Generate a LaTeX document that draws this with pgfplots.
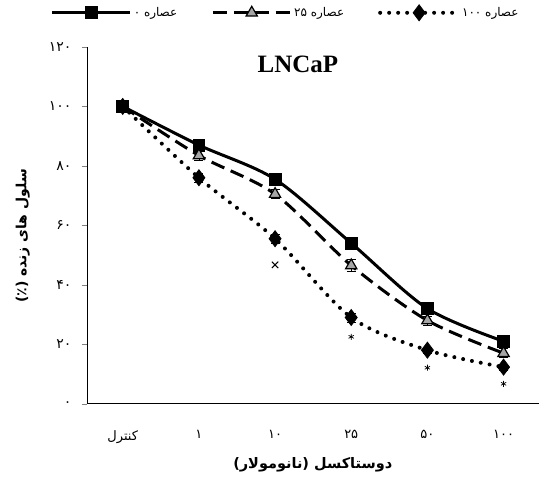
\documentclass[border=0pt]{standalone}
\usepackage{pgfplots}
\pgfplotsset{compat=1.18}
\usepackage{fontspec}
\setmainfont{Liberation Serif}
\newfontfamily\fa[Script=Arabic]{DejaVu Sans}
\TeXXeTstate=1

\begin{document}
\begin{tikzpicture}
\begin{axis}[
    name=ax,
    scale only axis,
    width=452pt, height=357pt,
    xmin=-0.47, xmax=5.46,
    ymin=0, ymax=120,
    axis lines=left,
    axis line style={-, line width=0.8pt},
    xtick={0,1,2,3,4,5},
    xticklabels={{\beginR کنترل\endR},۱,۱۰,۲۵,۵۰,۱۰۰},
    major x tick style={draw=none},
    ytick={0,20,40,60,80,100,120},
    yticklabels={۰,۲۰,۴۰,۶۰,۸۰,۱۰۰,۱۲۰},
    tick align=outside,
    major tick length=5pt,
    yticklabel style={font=\fa\fontsize{14}{16}\selectfont, xshift=-7pt},
    xticklabel style={font=\fa\fontsize{13}{15}\selectfont, yshift=-18pt},
    xlabel={\beginR دوستاکسل (نانومولار)\endR},
    xlabel style={font=\fa\bfseries\fontsize{14.5}{17}\selectfont,
        at={(axis description cs:0.5,0)}, anchor=center, yshift=-61pt},
    ylabel={\beginR سلول های زنده (٪)\endR},
    ylabel style={font=\fa\bfseries\fontsize{14}{16}\selectfont,
        at={(axis description cs:-0.142,0.47)}, anchor=center},
    legend columns=3,
    legend cell align=left,
    legend style={draw=none, fill=none, font=\fa\fontsize{12}{14}\selectfont,
        at={(0.44,1)}, anchor=south, yshift=24pt,
        /tikz/every even column/.append style={column sep=32pt}},
    legend image code/.code={
        \draw[mark repeat=2, mark phase=2] plot coordinates {(0pt,0pt) (39pt,0pt) (78pt,0pt)};
    },
    clip=false,
]
% عصاره 0
\addplot[black, line width=3pt, smooth, mark=square*,
    mark size=6pt, mark options={solid, fill=black, line width=0.8pt}] coordinates {
    (0,100) (1,87) (2,75.5) (3,54) (4,32) (5,21)
};
\addlegendentry{\beginR عصاره ۰\endR}
% عصاره 25
\addplot[black, line width=3pt, smooth, dash pattern=on 14pt off 7pt,
    mark=triangle*, mark size=6.5pt,
    mark options={solid, fill=black!35, line width=1.2pt},
    error bars/y dir=both, error bars/y explicit,
    error bars/error bar style={solid, line width=0.8pt},
    error bars/error mark options={rotate=90, mark size=4.5pt, line width=0.8pt}]
    coordinates {
    (0,100) +- (0,1) (1,83.5) +- (0,1.5) (2,70.5) +- (0,1.5)
    (3,46.5) +- (0,2) (4,28) +- (0,1.5) (5,17) +- (0,1.5)
};
\addlegendentry{\beginR عصاره ۲۵\endR}
% عصاره 100
\addplot[black, line width=4pt, smooth, line cap=round,
    dash pattern=on 0pt off 9pt,
    mark=diamond*, mark size=8pt, mark options={solid, fill=black, line width=0.8pt},
    error bars/y dir=both, error bars/y explicit,
    error bars/error bar style={solid, line width=0.8pt},
    error bars/error mark options={rotate=90, mark size=4.5pt, line width=0.8pt}]
    coordinates {
    (0,100) +- (0,1) (1,76) +- (0,1.5) (2,55.5) +- (0,1.5)
    (3,29) +- (0,1.5) (4,18) +- (0,1) (5,12.3) +- (0,1)
};
\addlegendentry{\beginR عصاره ۱۰۰\endR}
% significance marks
\addplot[only marks, mark=x, mark size=4.5pt, line width=1pt, forget plot]
    coordinates {(2,46.7)};
\addplot[only marks, mark=asterisk, mark size=3pt, line width=0.7pt, forget plot]
    coordinates {(3,22.5) (4,12.1) (5,6.7)};
\node[font=\bfseries\fontsize{25}{28}\selectfont] at (axis cs:2.3,114.3) {LNCaP};
\end{axis}
\useasboundingbox ([xshift=-87pt,yshift=-76pt]ax.south west)
    rectangle ([yshift=47pt]ax.north east);
\end{tikzpicture}
\end{document}
